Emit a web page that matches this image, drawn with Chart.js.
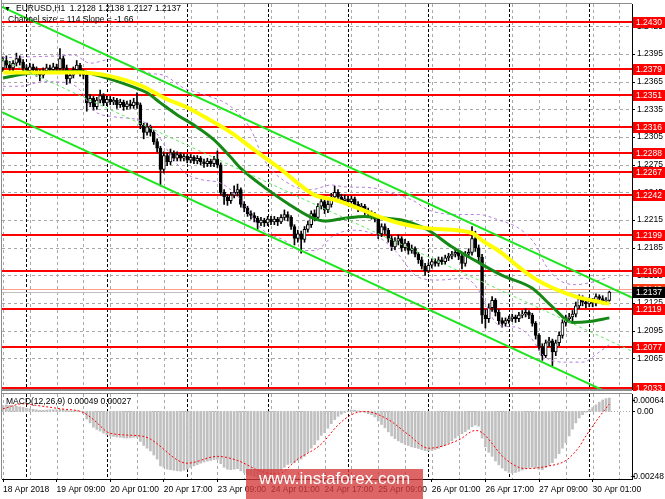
<!DOCTYPE html>
<html>
<head>
<meta charset="utf-8">
<title>EURUSD H1</title>
<script src="https://cdn.jsdelivr.net/npm/chart.js@4.4.1/dist/chart.umd.min.js"></script>
<style>
  html, body { margin: 0; padding: 0; background: #fff; }
  #box { position: relative; width: 665px; height: 499px; overflow: hidden; background: #fff; }
  canvas { position: absolute; left: 0; }
  #graphic-price { top: 0; }
  #graphic-macd { top: 391px; }
  .txt { position: absolute; font: 8.5px "Liberation Sans", Arial, sans-serif; color: #000; white-space: nowrap; z-index: 2; }
  #mark { position: absolute; left: 246px; top: 469px; width: 177px; height: 30px; line-height: 29px; text-align: center;
          background: rgba(212, 58, 58, 0.78); color: #fff; font: 17px "Liberation Sans", Arial, sans-serif; z-index: 3; }
</style>
</head>
<body>
<div id="box">
  <canvas id="graphic-price" width="665" height="391"></canvas>
  <canvas id="graphic-macd" width="665" height="108"></canvas>
  <div class="txt" style="left:4px;top:3px;font-size:7px;line-height:11px">▼</div>
  <div class="txt" style="left:16px;top:3px">EURUSD,H1&nbsp; 1.2128 1.2138 1.2127 1.2137</div>
  <div class="txt" style="left:8px;top:14px">Channel size = 114 Slope = -1.66</div>
  <div class="txt" style="left:6px;top:396px">MACD(12,26,9) 0.00049 0.00027</div>
  <div id="mark">www.instaforex.com</div>
</div>
<script>
Chart.defaults.font.family = '"Liberation Sans", Arial, sans-serif';
Chart.defaults.font.size = 8.5;
Chart.defaults.color = '#000';

// hourly bars, index 0 = 18 Apr 17:00
const timeTickIdx = [0, 16, 32, 48, 64, 80, 96, 112, 128, 144, 160, 176];
const timeTickLabels = ['18 Apr 2018', '19 Apr 09:00', '20 Apr 01:00', '20 Apr 17:00', '23 Apr 09:00', '24 Apr 01:00',
                        '24 Apr 17:00', '25 Apr 09:00', '26 Apr 01:00', '26 Apr 17:00', '27 Apr 09:00', '30 Apr 01:00'];
const gridIdx = [0, 8, 16, 24, 32, 40, 48, 56, 64, 72, 80, 88, 96, 104, 112, 120, 128, 136, 144, 152, 160, 168, 176, 184];
const daySepIdx = [7, 31, 55, 79, 103, 127, 151, 175];

const priceTicks = [1.2425, 1.2395, 1.2365, 1.2335, 1.2305, 1.2275, 1.2245, 1.2215, 1.2185, 1.2155, 1.2125, 1.2095, 1.2065];
const levels = [1.2430, 1.2379, 1.2351, 1.2316, 1.2288, 1.2267, 1.2242, 1.2199, 1.2160, 1.2119, 1.2077, 1.2033];
const bidPrice = 1.2137;
const askPrice = 1.2140;

const opens = [
  1.2380,1.2388,1.2383,1.2380,1.2385,1.2390,1.2386,1.2380,1.2377,1.2381,
  1.2378,1.2375,1.2372,1.2377,1.2380,1.2378,1.2381,1.2379,1.2390,1.2380,
  1.2368,1.2372,1.2378,1.2383,1.2375,1.2372,1.2342,1.2347,1.2338,1.2345,
  1.2350,1.2342,1.2346,1.2343,1.2345,1.2340,1.2343,1.2338,1.2341,1.2339,
  1.2343,1.2340,1.2318,1.2310,1.2316,1.2310,1.2300,1.2293,1.2270,1.2285,
  1.2278,1.2288,1.2282,1.2286,1.2282,1.2284,1.2280,1.2283,1.2279,1.2282,
  1.2278,1.2276,1.2279,1.2276,1.2281,1.2275,1.2245,1.2240,1.2236,1.2242,
  1.2245,1.2248,1.2232,1.2228,1.2222,1.2220,1.2217,1.2212,1.2215,1.2212,
  1.2216,1.2213,1.2216,1.2213,1.2218,1.2221,1.2218,1.2208,1.2195,1.2200,
  1.2194,1.2205,1.2210,1.2222,1.2218,1.2230,1.2235,1.2226,1.2232,1.2240,
  1.2245,1.2240,1.2236,1.2238,1.2235,1.2238,1.2232,1.2228,1.2230,1.2225,
  1.2222,1.2220,1.2216,1.2200,1.2208,1.2204,1.2195,1.2186,1.2192,1.2195,
  1.2185,1.2190,1.2182,1.2184,1.2178,1.2172,1.2165,1.2160,1.2166,1.2170,
  1.2168,1.2172,1.2170,1.2174,1.2176,1.2178,1.2180,1.2176,1.2168,1.2178,
  1.2180,1.2195,1.2185,1.2175,1.2112,1.2108,1.2120,1.2128,1.2115,1.2106,
  1.2103,1.2106,1.2108,1.2110,1.2108,1.2112,1.2113,1.2115,1.2112,1.2103,
  1.2090,1.2078,1.2068,1.2082,1.2084,1.2072,1.2082,1.2090,1.2104,1.2108,
  1.2110,1.2113,1.2122,1.2130,1.2126,1.2124,1.2127,1.2125,1.2132,1.2130,
  1.2127,1.2128
];
const highs = [
  1.2392,1.2393,1.2387,1.2388,1.2396,1.2393,1.2389,1.2383,1.2385,1.2384,
  1.2381,1.2378,1.2380,1.2384,1.2383,1.2385,1.2384,1.2401,1.2393,1.2383,
  1.2376,1.2381,1.2388,1.2385,1.2378,1.2375,1.2351,1.2349,1.2348,1.2356,
  1.2352,1.2349,1.2349,1.2348,1.2347,1.2346,1.2345,1.2344,1.2345,1.2347,
  1.2353,1.2342,1.2320,1.2320,1.2318,1.2312,1.2303,1.2295,1.2289,1.2288,
  1.2292,1.2290,1.2289,1.2288,1.2287,1.2286,1.2286,1.2285,1.2285,1.2284,
  1.2281,1.2282,1.2281,1.2284,1.2290,1.2277,1.2248,1.2243,1.2245,1.2252,
  1.2254,1.2250,1.2235,1.2230,1.2225,1.2223,1.2219,1.2218,1.2217,1.2219,
  1.2219,1.2219,1.2218,1.2221,1.2226,1.2224,1.2220,1.2210,1.2204,1.2203,
  1.2208,1.2214,1.2225,1.2226,1.2233,1.2239,1.2237,1.2236,1.2244,1.2252,
  1.2248,1.2243,1.2242,1.2241,1.2241,1.2240,1.2235,1.2233,1.2232,1.2228,
  1.2225,1.2223,1.2218,1.2211,1.2211,1.2206,1.2198,1.2196,1.2199,1.2197,
  1.2194,1.2192,1.2188,1.2186,1.2180,1.2175,1.2168,1.2169,1.2173,1.2173,
  1.2175,1.2175,1.2177,1.2179,1.2181,1.2184,1.2182,1.2178,1.2181,1.2184,
  1.2208,1.2203,1.2188,1.2178,1.2118,1.2124,1.2132,1.2130,1.2118,1.2109,
  1.2109,1.2111,1.2113,1.2112,1.2115,1.2117,1.2119,1.2117,1.2114,1.2105,
  1.2092,1.2081,1.2085,1.2088,1.2086,1.2085,1.2094,1.2107,1.2112,1.2114,
  1.2117,1.2126,1.2134,1.2133,1.2129,1.2131,1.2130,1.2135,1.2134,1.2133,
  1.2131,1.2138
];
const lows = [
  1.2376,1.2380,1.2377,1.2377,1.2382,1.2383,1.2377,1.2374,1.2374,1.2375,
  1.2371,1.2366,1.2369,1.2374,1.2375,1.2375,1.2376,1.2377,1.2376,1.2362,
  1.2364,1.2369,1.2375,1.2371,1.2368,1.2333,1.2338,1.2334,1.2335,1.2342,
  1.2339,1.2339,1.2340,1.2340,1.2336,1.2337,1.2334,1.2335,1.2336,1.2336,
  1.2336,1.2314,1.2303,1.2307,1.2306,1.2297,1.2289,1.2252,1.2266,1.2274,
  1.2275,1.2279,1.2279,1.2279,1.2279,1.2277,1.2277,1.2276,1.2276,1.2275,
  1.2272,1.2273,1.2273,1.2273,1.2272,1.2242,1.2232,1.2231,1.2233,1.2239,
  1.2241,1.2229,1.2224,1.2219,1.2216,1.2213,1.2205,1.2209,1.2208,1.2209,
  1.2210,1.2210,1.2209,1.2211,1.2215,1.2214,1.2205,1.2188,1.2191,1.2179,
  1.2191,1.2202,1.2207,1.2214,1.2215,1.2227,1.2222,1.2223,1.2229,1.2237,
  1.2236,1.2233,1.2233,1.2231,1.2232,1.2229,1.2224,1.2225,1.2221,1.2219,
  1.2216,1.2213,1.2195,1.2197,1.2200,1.2191,1.2182,1.2183,1.2188,1.2181,
  1.2182,1.2178,1.2179,1.2175,1.2168,1.2162,1.2155,1.2158,1.2163,1.2165,
  1.2165,1.2167,1.2167,1.2171,1.2173,1.2175,1.2172,1.2162,1.2165,1.2175,
  1.2177,1.2181,1.2170,1.2103,1.2098,1.2104,1.2116,1.2111,1.2102,1.2099,
  1.2100,1.2103,1.2105,1.2104,1.2105,1.2109,1.2110,1.2108,1.2100,1.2086,
  1.2074,1.2063,1.2066,1.2078,1.2057,1.2068,1.2079,1.2087,1.2100,1.2105,
  1.2106,1.2110,1.2119,1.2122,1.2120,1.2121,1.2121,1.2122,1.2126,1.2124,
  1.2124,1.2127
];
const closes = [
  1.2388,1.2383,1.2380,1.2385,1.2390,1.2386,1.2380,1.2377,1.2381,1.2378,
  1.2375,1.2372,1.2377,1.2380,1.2378,1.2381,1.2379,1.2390,1.2380,1.2368,
  1.2372,1.2378,1.2383,1.2375,1.2372,1.2342,1.2347,1.2338,1.2345,1.2350,
  1.2342,1.2346,1.2343,1.2345,1.2340,1.2343,1.2338,1.2341,1.2339,1.2343,
  1.2340,1.2318,1.2310,1.2316,1.2310,1.2300,1.2293,1.2270,1.2285,1.2278,
  1.2288,1.2282,1.2286,1.2282,1.2284,1.2280,1.2283,1.2279,1.2282,1.2278,
  1.2276,1.2279,1.2276,1.2281,1.2275,1.2245,1.2240,1.2236,1.2242,1.2245,
  1.2248,1.2232,1.2228,1.2222,1.2220,1.2217,1.2212,1.2215,1.2212,1.2216,
  1.2213,1.2216,1.2213,1.2218,1.2221,1.2218,1.2208,1.2195,1.2200,1.2194,
  1.2205,1.2210,1.2222,1.2218,1.2230,1.2235,1.2226,1.2232,1.2240,1.2245,
  1.2240,1.2236,1.2238,1.2235,1.2238,1.2232,1.2228,1.2230,1.2225,1.2222,
  1.2220,1.2216,1.2200,1.2208,1.2204,1.2195,1.2186,1.2192,1.2195,1.2185,
  1.2190,1.2182,1.2184,1.2178,1.2172,1.2165,1.2160,1.2166,1.2170,1.2168,
  1.2172,1.2170,1.2174,1.2176,1.2178,1.2180,1.2176,1.2168,1.2178,1.2180,
  1.2195,1.2185,1.2175,1.2112,1.2108,1.2120,1.2128,1.2115,1.2106,1.2103,
  1.2106,1.2108,1.2110,1.2108,1.2112,1.2113,1.2115,1.2112,1.2103,1.2090,
  1.2078,1.2068,1.2082,1.2084,1.2072,1.2082,1.2090,1.2104,1.2108,1.2110,
  1.2113,1.2122,1.2130,1.2126,1.2124,1.2127,1.2125,1.2132,1.2130,1.2127,
  1.2128,1.2137
];

// moving averages, read at a few bars
const maSlowIdx = [0, 23, 32, 41, 49, 55, 61, 68, 75, 83, 89, 93, 99, 106, 112, 119, 127, 140, 143, 149, 154, 159, 165, 171, 177, 181];
const maSlow = [1.2375, 1.2375, 1.2371, 1.2361, 1.2346, 1.2337, 1.2325, 1.2310, 1.2291, 1.2270, 1.2252, 1.2242, 1.2237,
                1.2228, 1.2219, 1.2211, 1.2206, 1.2201, 1.2193, 1.2179, 1.2164, 1.2151, 1.2140, 1.2132, 1.2127, 1.2124];
const maFastIdx = [0, 8, 23, 29, 39, 43, 47, 52, 57, 63, 68, 71, 79, 85, 92, 96, 102, 108, 111, 119, 122, 127, 134, 141, 149, 158, 164, 170, 175, 181];
const maFast = [1.2369, 1.2374, 1.2376, 1.2371, 1.2359, 1.2353, 1.2342, 1.2329, 1.2318, 1.2302, 1.2283, 1.2271, 1.2248, 1.2233, 1.2218,
                1.2214, 1.2217, 1.2219, 1.2218, 1.2215, 1.2212, 1.2204, 1.2186, 1.2171, 1.2155, 1.2141, 1.2121, 1.2104, 1.2105, 1.2109];

// bands
const bandUpIdx = [0, 8, 17, 21, 26, 32, 39, 44, 48, 54, 60, 68, 74, 78, 86, 92, 98, 102, 110, 116, 122, 127, 136, 142, 148, 154, 159, 162, 166, 171, 175, 181];
const bandUp = [1.2391, 1.2392, 1.2393, 1.2394, 1.2385, 1.2389, 1.2381, 1.2374, 1.2372, 1.2358, 1.2351, 1.2338, 1.2313, 1.2280, 1.2253, 1.2248,
                1.2253, 1.2251, 1.2250, 1.2244, 1.2237, 1.2226, 1.2221, 1.2221, 1.2215, 1.2206, 1.2188, 1.2166, 1.2150, 1.2145, 1.2147, 1.2153];
const bandLowIdx = [0, 5, 12, 19, 23, 27, 33, 41, 45, 50, 54, 59, 65, 71, 77, 84, 89, 93, 99, 105, 111, 117, 124, 130, 138, 142, 148, 153, 157, 162, 168, 173, 178, 181];
const bandLow = [1.2360, 1.2360, 1.2365, 1.2364, 1.2356, 1.2334, 1.2327, 1.2323, 1.2313, 1.2286, 1.2267, 1.2259, 1.2255, 1.2237, 1.2206, 1.2193, 1.2182,
                 1.2182, 1.2199, 1.2204, 1.2199, 1.2182, 1.2153, 1.2150, 1.2152, 1.2139, 1.2101, 1.2099, 1.2090, 1.2066, 1.2061, 1.2061, 1.2072, 1.2080];

// regression channel (ends at the panel edges)
const channelIdx = [-0.3, 187.76];
const channelUp = [1.2446, 1.2131];
const channelMid = [1.2389, 1.2073];
const channelLow = [1.2332, 1.2016];

// MACD(12,26,9)
const macdMain = [
  0.00022,0.00024,0.00022,0.00020,0.00019,0.00017,0.00015,0.00012,0.00010,0.00008,
  0.00006,0.00004,0.00004,0.00005,0.00006,0.00006,0.00006,0.00008,0.00007,0.00004,
  0.00002,0.00002,0.00003,0.00001,-0.00008,-0.00028,-0.00042,-0.00058,-0.00066,-0.00072,
  -0.00080,-0.00086,-0.00090,-0.00092,-0.00094,-0.00095,-0.00097,-0.00098,-0.00097,-0.00095,
  -0.00095,-0.00110,-0.00125,-0.00135,-0.00145,-0.00160,-0.00175,-0.00200,-0.00205,-0.00212,
  -0.00214,-0.00216,-0.00218,-0.00219,-0.00216,-0.00212,-0.00206,-0.00200,-0.00195,-0.00190,
  -0.00186,-0.00182,-0.00180,-0.00177,-0.00176,-0.00192,-0.00205,-0.00212,-0.00214,-0.00212,
  -0.00210,-0.00218,-0.00225,-0.00232,-0.00236,-0.00240,-0.00243,-0.00244,-0.00243,-0.00241,
  -0.00238,-0.00232,-0.00226,-0.00218,-0.00205,-0.00195,-0.00190,-0.00188,-0.00180,-0.00175,
  -0.00165,-0.00150,-0.00135,-0.00122,-0.00105,-0.00088,-0.00078,-0.00062,-0.00045,-0.00030,
  -0.00018,-0.00010,-0.00004,0.00002,0.00005,0.00004,0.00002,-0.00001,-0.00004,-0.00008,
  -0.00012,-0.00020,-0.00035,-0.00048,-0.00060,-0.00075,-0.00090,-0.00100,-0.00108,-0.00115,
  -0.00120,-0.00125,-0.00130,-0.00133,-0.00136,-0.00140,-0.00144,-0.00145,-0.00143,-0.00140,
  -0.00136,-0.00130,-0.00124,-0.00116,-0.00108,-0.00098,-0.00090,-0.00082,-0.00074,-0.00066,
  -0.00056,-0.00050,-0.00054,-0.00098,-0.00130,-0.00150,-0.00165,-0.00182,-0.00196,-0.00208,
  -0.00218,-0.00224,-0.00226,-0.00224,-0.00220,-0.00215,-0.00210,-0.00206,-0.00205,-0.00208,
  -0.00212,-0.00214,-0.00206,-0.00198,-0.00188,-0.00172,-0.00155,-0.00135,-0.00115,-0.00090,
  -0.00065,-0.00042,-0.00024,-0.00012,-0.00003,0.00006,0.00014,0.00024,0.00034,0.00042,
  0.00047,0.00049
];
const signalIdx = [0, 6, 10, 17, 24, 27, 32, 42, 55, 64, 70, 77, 82, 88, 95, 100, 104, 108, 115, 121, 127, 136, 141, 143, 150, 156, 163, 168, 172, 174, 178, 181];
const signal = [0.00010, 0.00028, 0.00022, 0.00010, -0.00004, -0.00030, -0.00080, -0.00092, -0.00190, -0.00165, -0.00180, -0.00220, -0.00230, -0.00175, -0.00120, -0.00050,
                -0.00012, 0.00000, -0.00030, -0.00085, -0.00135, -0.00105, -0.00070, -0.00078, -0.00175, -0.00210, -0.00200, -0.00180, -0.00130, -0.00090, -0.00020, 0.00027];
const macdTicks = [0.00064, 0, -0.00248];
const macdTickLabels = ['0.00064', '0.00', '-0.00248'];

const xMin = -0.3, xMax = 187.76;

const toPts = (idx, vals) => idx.map((v, k) => ({ x: v, y: vals[k] }));

// dashed lines drawn as small rects so they stay crisp
function dashV(ctx, px, y0, y1, on, off) {
    for (let y = y0; y < y1; y += on + off) ctx.fillRect(px, y, 1, Math.min(on, y1 - y));
}
function dashH(ctx, py, x0, x1, on, off) {
    for (let x = x0; x < x1; x += on + off) ctx.fillRect(x, py, Math.min(on, x1 - x), 1);
}

function drawGrid(chart, withPrices) {
    const { ctx, chartArea: a, scales: { x, y } } = chart;
    ctx.save();
    ctx.fillStyle = '#a8a8a8';
    if (withPrices) {
        priceTicks.forEach(v => dashH(ctx, Math.round(y.getPixelForValue(v)), a.left, a.right, 3, 3));
    }
    gridIdx.forEach(i => dashV(ctx, Math.round(x.getPixelForValue(i)), a.top, a.bottom, 3, 3));
    ctx.fillStyle = '#000';
    daySepIdx.forEach(i => dashV(ctx, Math.round(x.getPixelForValue(i)), a.top, a.bottom, 3, 2));
    ctx.restore();
}

function priceBox(ctx, a, y, v, bg) {
    const py = Math.round(y.getPixelForValue(v));
    ctx.fillStyle = bg;
    ctx.fillRect(a.right + 1, py - 5, 33, 11);
    ctx.fillStyle = '#fff';
    ctx.fillText(v.toFixed(4), a.right + 4, py + 0.5);
}

const priceDecor = {
    id: 'priceDecor',
    beforeDatasetsDraw(chart) {
        const { ctx, chartArea: a, scales: { y } } = chart;
        drawGrid(chart, true);
        ctx.save();
        ctx.fillStyle = '#ffa08c';
        ctx.fillRect(a.left, Math.round(y.getPixelForValue(askPrice)), a.right - a.left, 1);
        ctx.fillStyle = '#c0c0c0';
        ctx.fillRect(a.left, Math.round(y.getPixelForValue(bidPrice)), a.right - a.left, 1);
        ctx.fillStyle = '#ff0000';
        levels.forEach(v => {
            const py = Math.round(y.getPixelForValue(v));
            ctx.fillRect(a.left, py - 1, a.right - a.left, 2);
        });
        ctx.restore();
    },
    afterDraw(chart) {
        const { ctx, chartArea: a, scales: { y } } = chart;
        ctx.save();
        ctx.fillStyle = '#8c8c8c';
        ctx.fillRect(a.left - 1, 0, 1, a.bottom + 1);
        ctx.fillRect(a.left - 1, a.top - 1, a.right - a.left + 1, 1);
        ctx.fillRect(a.left - 1, a.bottom, a.right - a.left + 1, 2);
        ctx.fillStyle = '#000';
        priceTicks.forEach(v => ctx.fillRect(a.right, Math.round(y.getPixelForValue(v)), 3, 1));
        ctx.font = '8.5px "Liberation Sans", Arial, sans-serif';
        ctx.textBaseline = 'middle';
        levels.forEach(v => priceBox(ctx, a, y, v, '#ff0000'));
        priceBox(ctx, a, y, askPrice, '#ff3c14');
        priceBox(ctx, a, y, bidPrice, '#000000');
        ctx.restore();
    }
};

const macdDecor = {
    id: 'macdDecor',
    beforeDatasetsDraw(chart) {
        const { ctx, chartArea: a, scales: { y } } = chart;
        drawGrid(chart, false);
        ctx.save();
        ctx.fillStyle = '#a8a8a8';
        dashH(ctx, Math.round(y.getPixelForValue(0)), a.left, a.right, 1, 2);
        ctx.restore();
    },
    afterDraw(chart) {
        const { ctx, chartArea: a, scales: { y } } = chart;
        ctx.save();
        ctx.fillStyle = '#8c8c8c';
        ctx.fillRect(a.left - 1, 0, 1, a.bottom);
        ctx.fillRect(a.left - 1, a.top - 1, a.right - a.left + 1, 1);
        ctx.font = '8.5px "Liberation Sans", Arial, sans-serif';
        ctx.textBaseline = 'middle';
        macdTicks.forEach((v, k) => {
            const py = Math.min(Math.max(y.getPixelForValue(v), a.top + 6), a.bottom - 3);
            const w = ctx.measureText(macdTickLabels[k]).width;
            ctx.fillStyle = '#000';
            ctx.fillRect(a.right, Math.round(py), 3, 1);
            ctx.fillText(macdTickLabels[k], Math.min(a.right + 5, chart.width - w - 1), py + 0.5);
        });
        ctx.restore();
    }
};

new Chart(document.getElementById('graphic-price'), {
    type: 'bar',
    data: {
        datasets: [
            { type: 'line', label: 'Channel up', data: toPts(channelIdx, channelUp), borderColor: '#1ee61e', borderWidth: 2, pointRadius: 0, order: 0 },
            { type: 'line', label: 'Channel low', data: toPts(channelIdx, channelLow), borderColor: '#1ee61e', borderWidth: 2, pointRadius: 0, order: 0 },
            { type: 'line', label: 'Channel mid', data: toPts(channelIdx, channelMid), borderColor: '#5ee85e', borderWidth: 1, borderDash: [3, 3], pointRadius: 0, order: 0 },
            { type: 'line', label: 'MA slow', data: toPts(maSlowIdx, maSlow), borderColor: '#ffff00', borderWidth: 4, pointRadius: 0, cubicInterpolationMode: 'monotone', order: 1 },
            { type: 'line', label: 'MA fast', data: toPts(maFastIdx, maFast), borderColor: '#168816', borderWidth: 3, pointRadius: 0, cubicInterpolationMode: 'monotone', order: 2 },
            { type: 'line', label: 'Band up', data: toPts(bandUpIdx, bandUp), borderColor: '#b57ce0', borderWidth: 1, borderDash: [3, 3], pointRadius: 0, cubicInterpolationMode: 'monotone', order: 3 },
            { type: 'line', label: 'Band low', data: toPts(bandLowIdx, bandLow), borderColor: '#b57ce0', borderWidth: 1, borderDash: [3, 3], pointRadius: 0, cubicInterpolationMode: 'monotone', order: 3 },
            {
                label: 'Body',
                data: closes.map((c, i) => ({ x: i, y: [opens[i], c] })),
                backgroundColor: closes.map((c, i) => c >= opens[i] ? '#ffffff' : '#000000'),
                borderColor: '#000',
                borderWidth: 1,
                borderSkipped: false,
                minBarLength: 1,
                barThickness: 3,
                barPercentage: 1,
                categoryPercentage: 1,
                grouped: false,
                order: 4
            },
            {
                label: 'Wick',
                data: highs.map((h, i) => ({ x: i, y: [lows[i], h] })),
                backgroundColor: '#000',
                barThickness: 1,
                barPercentage: 1,
                categoryPercentage: 1,
                grouped: false,
                order: 5
            }
        ]
    },
    options: {
        responsive: false,
        maintainAspectRatio: false,
        animation: false,
        events: [],
        layout: { padding: { left: 2, top: 4, right: 0, bottom: 2 } },
        plugins: { legend: { display: false }, tooltip: { enabled: false } },
        scales: {
            x: { type: 'linear', min: xMin, max: xMax, offset: false, display: false },
            y: {
                position: 'right',
                min: 1.20319,
                max: 1.24492,
                afterBuildTicks: s => { s.ticks = priceTicks.map(v => ({ value: v })); },
                afterFit: s => { s.width = 33; s.paddingTop = 0; s.paddingBottom = 0; },
                ticks: { color: '#000', padding: 5, autoSkip: false, font: { size: 8.5 }, callback: v => v.toFixed(4) },
                grid: { display: false, drawTicks: false },
                border: { display: true, color: '#000' }
            }
        }
    },
    plugins: [priceDecor]
});

new Chart(document.getElementById('graphic-macd'), {
    type: 'bar',
    data: {
        datasets: [
            { type: 'line', label: 'Signal', data: toPts(signalIdx, signal), borderColor: '#ff0000', borderWidth: 1, borderDash: [2, 2], pointRadius: 0, cubicInterpolationMode: 'monotone', order: 0 },
            { label: 'MACD', data: macdMain.map((v, i) => ({ x: i, y: v })), backgroundColor: '#c0c0c0', barThickness: 2, order: 1 }
        ]
    },
    options: {
        responsive: false,
        maintainAspectRatio: false,
        animation: false,
        events: [],
        layout: { padding: { left: 2, top: 3, right: 0, bottom: 0 } },
        plugins: { legend: { display: false }, tooltip: { enabled: false } },
        scales: {
            x: {
                type: 'linear', min: xMin, max: xMax, offset: false,
                afterBuildTicks: s => { s.ticks = timeTickIdx.map(v => ({ value: v })); },
                afterFit: s => { s.height = 20; s.paddingLeft = 0; s.paddingRight = 0; },
                ticks: { autoSkip: false, maxRotation: 0, minRotation: 0, align: 'start', padding: 3, color: '#000', font: { size: 8.5 },
                         callback: (v, k) => timeTickLabels[k] },
                grid: { drawOnChartArea: false, offset: false, tickLength: 3, tickColor: '#000' },
                border: { display: true, color: '#000' }
            },
            y: {
                position: 'right',
                min: -0.00248,
                max: 0.00064,
                afterFit: s => { s.width = 33; s.paddingTop = 0; s.paddingBottom = 0; },
                ticks: { display: false },
                grid: { display: false, drawTicks: false },
                border: { display: true, color: '#000' }
            }
        }
    },
    plugins: [macdDecor]
});
</script>
</body>
</html>
